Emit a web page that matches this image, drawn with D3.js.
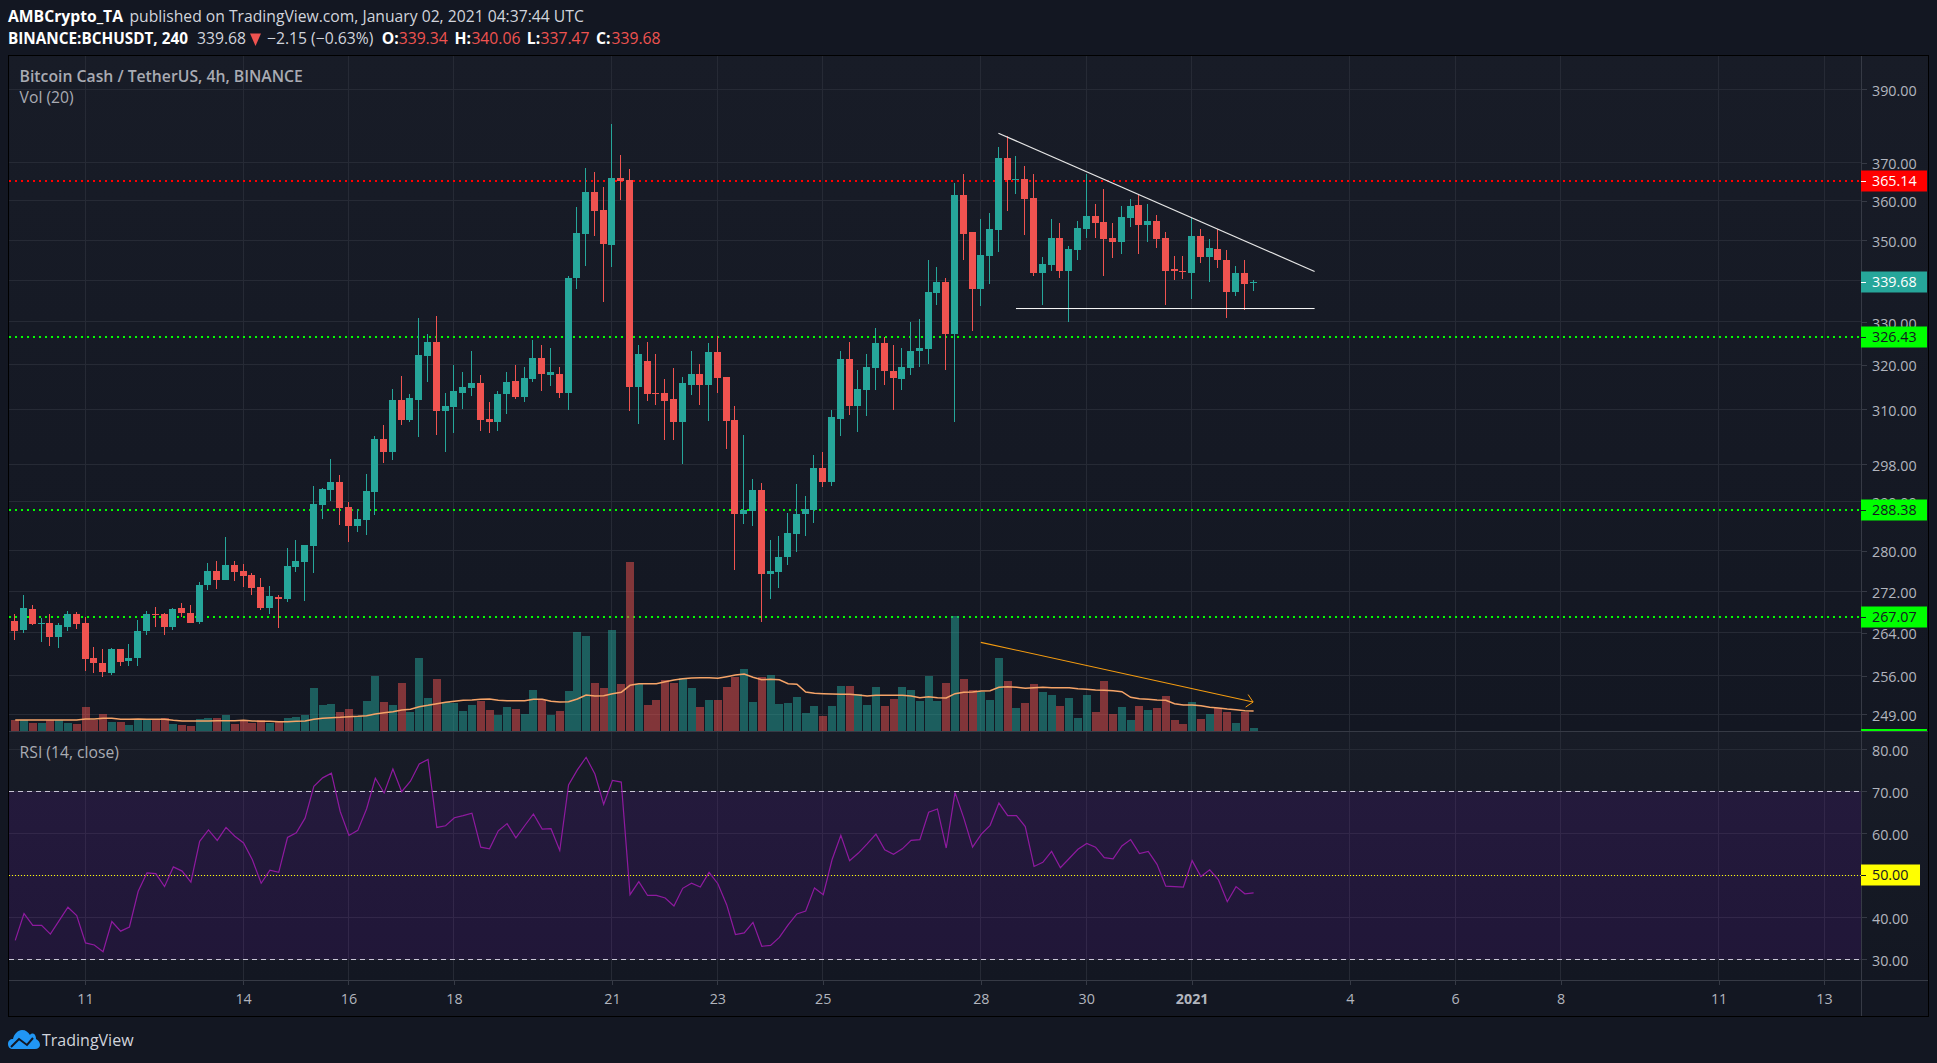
<!DOCTYPE html>
<html>
<head>
<meta charset="utf-8">
<title>BCHUSDT 4h</title>
<script src="https://cdn.jsdelivr.net/npm/d3@7/dist/d3.min.js"></script>
<style>
	html, body { margin: 0; padding: 0; background: #131722; overflow: hidden; }
	text { font-family: "Open Sans", sans-serif; }
	svg { display: block; }
</style>
</head>
<body>
<div id="chart"></div>
<script>
// candles, every 4 hours starting 9 Dec 2020 16:00 UTC
var opens = [
	266.3, 264.6, 268.6, 265.6, 265.8, 263.3, 265.2, 267.6, 265.8, 259.2,
	258.4, 256.5, 261.0, 258.8, 259.2, 264.3, 267.6, 267.6, 265.2, 268.8,
	267.8, 266.1, 273.3, 276.0, 274.3, 277.2, 276.0, 275.1, 272.9, 268.8,
	270.9, 270.5, 276.8, 277.8, 280.9, 289.4, 292.5, 294.2, 289.0, 285.1,
	286.3, 292.1, 303.4, 300.6, 312.0, 307.6, 312.0, 322.0, 325.3, 309.6,
	310.5, 313.6, 314.7, 315.8, 307.8, 307.1, 313.3, 316.2, 312.6, 316.7,
	321.5, 317.6, 318.0, 313.5, 340.7, 351.6, 362.3, 357.7, 348.8, 366.0,
	365.4, 314.9, 321.0, 313.5, 313.7, 312.2, 307.1, 315.5, 317.8, 315.5,
	322.9, 317.3, 307.5, 287.5, 288.1, 292.5, 275.3, 275.7, 278.8, 283.4,
	287.5, 288.3, 297.1, 294.2, 307.9, 321.3, 310.6, 314.2, 319.2, 325.0,
	318.5, 316.7, 319.2, 323.1, 323.6, 337.0, 339.5, 327.1, 361.6, 352.1,
	337.8, 346.1, 352.6, 371.3, 365.4, 365.7, 360.8, 341.7, 343.9, 350.6,
	342.4, 347.6, 352.9, 356.2, 354.6, 350.6, 349.5, 355.7, 359.0, 353.9,
	354.9, 350.6, 342.9, 342.4, 341.9, 351.1, 345.8, 347.8, 345.1, 337.3,
	341.9, 339.34
];
var highs = [
	267.6, 271.3, 269.4, 266.9, 267.6, 265.9, 268.2, 268.0, 267.1, 261.4,
	260.9, 261.2, 261.0, 261.8, 266.5, 268.2, 269.0, 267.8, 268.8, 269.7,
	269.4, 273.9, 277.6, 278.0, 282.7, 278.0, 277.4, 275.5, 274.5, 273.1,
	271.3, 280.5, 282.1, 281.1, 293.3, 292.9, 299.1, 295.6, 290.0, 288.6,
	295.9, 304.0, 306.5, 314.5, 317.4, 313.4, 330.9, 327.1, 331.4, 313.6,
	319.9, 318.3, 323.2, 317.6, 311.6, 314.0, 318.3, 319.9, 319.6, 325.7,
	324.5, 323.8, 319.4, 341.2, 358.5, 368.6, 367.6, 363.6, 380.5, 372.1,
	368.4, 324.5, 325.2, 322.6, 316.7, 319.2, 317.3, 323.1, 320.3, 325.0,
	326.6, 317.3, 310.6, 304.2, 294.8, 294.0, 282.2, 283.0, 287.7, 293.8,
	291.2, 299.9, 300.5, 309.7, 323.1, 325.4, 318.9, 322.6, 328.5, 326.4,
	324.5, 324.0, 329.9, 330.6, 345.1, 343.4, 340.7, 364.7, 367.0, 352.1,
	355.2, 356.9, 374.2, 377.2, 371.8, 369.2, 367.0, 345.8, 355.2, 354.4,
	348.5, 354.9, 367.0, 359.3, 363.1, 354.4, 358.7, 360.5, 361.6, 359.3,
	356.4, 352.1, 346.1, 346.1, 355.7, 352.9, 350.3, 352.9, 347.6, 343.6,
	345.1, 340.06
];
var lows = [
	262.7, 263.9, 265.4, 262.2, 261.6, 261.2, 264.4, 264.8, 256.9, 256.5,
	255.8, 256.2, 257.8, 257.8, 257.8, 263.5, 265.2, 263.5, 264.6, 267.1,
	265.9, 265.6, 272.3, 272.5, 274.3, 274.1, 272.9, 271.3, 268.4, 267.6,
	265.0, 269.9, 275.8, 270.1, 275.6, 286.5, 290.2, 285.3, 281.7, 283.9,
	283.3, 287.3, 298.2, 298.8, 306.5, 307.1, 303.8, 316.1, 304.2, 300.6,
	304.7, 310.0, 312.9, 305.1, 304.7, 305.1, 309.0, 312.2, 311.5, 316.0,
	314.0, 315.1, 312.4, 309.9, 338.0, 343.6, 351.1, 334.8, 343.4, 360.3,
	309.5, 306.8, 311.9, 310.8, 303.3, 303.1, 298.0, 313.1, 311.0, 307.3,
	313.5, 301.2, 276.1, 285.4, 285.0, 266.0, 270.5, 272.6, 277.1, 279.8,
	283.0, 285.6, 293.1, 293.3, 304.0, 308.6, 304.9, 308.4, 314.2, 315.5,
	309.9, 314.2, 317.6, 319.6, 320.1, 334.1, 318.9, 307.1, 344.9, 327.8,
	333.9, 339.2, 347.1, 357.5, 361.8, 351.3, 341.2, 334.1, 342.2, 340.7,
	329.9, 345.1, 350.6, 350.6, 341.2, 345.4, 346.6, 353.4, 346.6, 349.5,
	348.1, 334.1, 340.0, 340.4, 335.6, 344.4, 339.7, 343.1, 331.0, 336.3,
	332.9, 337.47
];
var closes = [
	264.4, 268.8, 265.6, 265.8, 263.3, 265.4, 267.5, 265.6, 259.0, 258.4,
	256.7, 261.0, 258.6, 259.3, 264.4, 267.6, 267.4, 265.2, 268.6, 267.8,
	265.9, 273.3, 276.0, 274.3, 277.2, 275.8, 274.9, 272.7, 268.8, 271.1,
	270.5, 277.0, 278.0, 281.1, 289.6, 292.7, 294.2, 288.8, 285.1, 286.5,
	292.3, 303.4, 300.6, 312.0, 307.6, 312.5, 322.2, 325.3, 309.6, 310.7,
	314.0, 314.9, 315.8, 307.6, 307.1, 313.4, 316.0, 312.6, 316.9, 321.5,
	317.8, 318.3, 313.7, 340.7, 351.8, 362.3, 357.5, 349.0, 366.0, 365.2,
	314.9, 322.6, 313.3, 313.3, 311.9, 307.1, 315.8, 317.8, 315.5, 322.9,
	317.1, 307.3, 287.5, 288.3, 292.5, 275.3, 275.9, 278.8, 283.6, 287.5,
	288.5, 297.1, 294.2, 308.2, 321.3, 310.6, 314.4, 319.4, 325.0, 318.5,
	316.9, 319.4, 323.3, 323.8, 337.3, 339.5, 327.1, 361.6, 351.6, 338.0,
	346.3, 352.9, 371.3, 365.4, 365.7, 360.5, 341.7, 344.1, 350.6, 342.4,
	347.8, 353.1, 356.2, 354.4, 350.3, 349.5, 355.9, 358.7, 353.9, 354.9,
	350.3, 342.4, 342.4, 342.2, 351.1, 345.8, 348.1, 344.9, 337.3, 341.9,
	339.2, 339.68
];

// volume in relative units, the scale of the picture has no labels
var volumes = [
	11, 11, 8, 8, 11, 11, 8, 7, 24, 11,
	17, 9, 9, 6, 11, 11, 11, 13, 7, 6,
	5, 12, 13, 13, 16, 7, 11, 8, 11, 8,
	9, 13, 14, 16, 43, 26, 27, 19, 22, 15,
	30, 55, 29, 26, 48, 19, 73, 33, 52, 29,
	28, 20, 26, 30, 21, 16, 24, 22, 17, 41,
	31, 16, 20, 40, 99, 95, 48, 43, 101, 47,
	169, 47, 26, 31, 51, 48, 53, 43, 24, 31,
	31, 44, 54, 62, 29, 54, 56, 27, 28, 34,
	18, 25, 15, 25, 45, 45, 37, 26, 44, 25,
	32, 44, 41, 30, 55, 30, 48, 115, 52, 41,
	39, 31, 73, 50, 23, 28, 47, 39, 36, 25,
	33, 13, 36, 19, 50, 17, 24, 11, 25, 21,
	23, 35, 11, 7, 29, 12, 17, 23, 19, 8,
	19, 3
];
var volumeMa = [
	11, 11, 11, 11, 11, 11, 11, 11, 12, 12,
	12.7, 12.7, 11.7, 11.7, 12, 11.7, 11.7, 11.7, 10.7, 10,
	10, 10, 10, 10.3, 10.3, 10.3, 10.7, 10, 9.7, 9.7,
	9.3, 9.3, 9.7, 10, 11.7, 12.7, 13.3, 13.7, 14.3, 14.7,
	15.3, 17, 18.3, 19.3, 21, 21.7, 24.3, 25.7, 27.3, 28.7,
	29.7, 30.7, 31, 31.7, 32, 30.7, 30.3, 30.3, 30.3, 31.7,
	31.7, 29.7, 29, 29.3, 32, 36, 35, 35.3, 37.3, 38.7,
	45.7, 47.3, 47.3, 47.3, 49.3, 51, 52.3, 53, 53.3, 53.3,
	52.7, 54.3, 56, 57, 53.7, 51.3, 51.7, 51.3, 47.3, 46.7,
	39, 37.7, 37.3, 37, 36.7, 36.7, 36, 35, 35.7, 35.7,
	35.7, 35.7, 35, 33.3, 34.3, 33.3, 33, 37.3, 38.7, 39,
	40, 40.3, 43.7, 44.3, 43.7, 42.7, 43.3, 43.7, 43.3, 43.3,
	43.3, 42.3, 41.7, 41, 40.7, 40.3, 39.3, 33.7, 32.3, 31.7,
	31, 30.7, 27.3, 26, 26, 25.3, 23.7, 23, 22, 21.3,
	20.3, 20
];
var rsi = [
	34.5, 40.9, 38.1, 38.1, 36.0, 39.2, 42.4, 40.4, 33.9, 33.4,
	31.8, 39.0, 36.7, 37.7, 46.2, 50.6, 50.4, 47.3, 52.0, 51.0,
	48.4, 58.1, 60.8, 58.3, 61.4, 59.3, 57.7, 53.7, 48.1, 51.2,
	50.7, 59.0, 60.1, 63.6, 71.2, 73.2, 74.3, 65.2, 59.5, 60.7,
	65.8, 73.1, 69.6, 75.3, 69.9, 72.4, 76.5, 77.6, 61.4, 61.8,
	63.7, 64.2, 64.8, 56.7, 56.3, 60.6, 62.3, 58.9, 61.8, 64.6,
	61.0, 61.1, 55.9, 71.5, 75.1, 78.1, 74.1, 66.9, 72.6, 72.2,
	45.4, 48.5, 45.2, 45.2, 44.6, 42.7, 46.9, 48.1, 47.2, 50.7,
	48.0, 43.0, 35.9, 36.3, 38.8, 33.1, 33.3, 35.2, 38.2, 40.8,
	41.5, 47.0, 45.4, 53.7, 59.5, 53.5, 55.3, 57.5, 59.8, 56.1,
	55.0, 56.3, 58.3, 58.5, 65.0, 65.8, 56.5, 69.7, 63.6, 56.7,
	59.8, 61.9, 67.2, 64.2, 64.2, 61.6, 52.1, 53.1, 55.7, 51.8,
	54.0, 56.2, 57.6, 56.7, 54.2, 53.9, 57.0, 58.5, 55.2, 55.7,
	52.6, 47.4, 47.3, 47.2, 53.5, 49.7, 51.3, 48.9, 43.7, 47.3,
	45.6, 45.8
];

// axis ticks
var priceTicks = [390, 370, 360, 350, 340, 330, 320, 310, 298, 290, 280, 272, 264, 256, 249];
var rsiTicks = [80, 70, 60, 50, 40, 30];
var timeTicks = [
	[2020, 11, 11], [2020, 11, 14], [2020, 11, 16], [2020, 11, 18], [2020, 11, 21],
	[2020, 11, 23], [2020, 11, 25], [2020, 11, 28], [2020, 11, 30], [2021, 0, 1],
	[2021, 0, 4], [2021, 0, 6], [2021, 0, 8], [2021, 0, 11], [2021, 0, 13]
];
var timeLabels = ["11", "14", "16", "18", "21", "23", "25", "28", "30", "2021", "4", "6", "8", "11", "13"];

// horizontal levels and drawings
var levelPrices = [365.14, 326.43, 288.38, 267.07];
var levelFills = ["#ff0000", "#00ff00", "#00ff00", "#00ff00"];
var levelTexts = ["#ffffff", "#131722", "#131722", "#131722"];
var lastPrice = 339.68;
var fallingTrend = [[Date.UTC(2020, 11, 28, 8), 377.9], [Date.UTC(2021, 0, 3, 8), 342.2]];
var flatSupport = [[Date.UTC(2020, 11, 28, 16), 333.2], [Date.UTC(2021, 0, 3, 8), 333.2]];
var volumeTrend = [[Date.UTC(2020, 11, 28, 0), 262.2], [Date.UTC(2021, 0, 2, 4), 251.2]];

var green = "#26a69a", red = "#ef5350", gridColor = "#262a35", axisColor = "#363a45", axisText = "#b2b5be";

var bars = opens.map(function(d, i) {
	return {
		date: new Date(Date.UTC(2020, 11, 9, 16) + i * 4 * 3600 * 1000),
		open: d, high: highs[i], low: lows[i], close: closes[i],
		volume: volumes[i], volumeMa: volumeMa[i], rsi: rsi[i]
	};
});

// layout
var chartWidth = 1937, chartHeight = 1063;
var paneLeft = 8.5, paneRight = 1861, frameRight = 1928, paneTop = 55, paneSplit = 731, timeTop = 980, frameBottom = 1016;
var dashStart = 9;

var x = d3.scaleUtc()
	.domain([new Date(Date.UTC(2020, 11, 11)), new Date(Date.UTC(2021, 0, 13))])
	.range([85, 1824]);
var y = d3.scaleLog().domain([390, 249]).range([89.3, 714.3]);
var yVol = d3.scaleLinear().domain([0, 169]).range([731, 562]);
var yRsi = d3.scaleLinear().domain([80, 30]).range([749.3, 959.3]);

function px(d) { return Math.floor(x(d)); }
function color(d) { return d.close >= d.open ? green : red; }

var svg = d3.select("#chart").append("svg").attr("width", chartWidth).attr("height", chartHeight);

// backgrounds
var defs = svg.append("defs");
var grad = defs.append("linearGradient").attr("id", "paneBg").attr("x1", 0).attr("x2", 0).attr("y1", 0).attr("y2", 1);
grad.append("stop").attr("offset", "0%").attr("stop-color", "#181c27");
grad.append("stop").attr("offset", "100%").attr("stop-color", "#131722");
defs.append("clipPath").attr("id", "mainClip").append("rect")
	.attr("x", paneLeft).attr("y", paneTop).attr("width", paneRight - paneLeft).attr("height", paneSplit - paneTop);

svg.append("rect").attr("width", chartWidth).attr("height", chartHeight).attr("fill", "#131722");
svg.append("rect").attr("x", paneLeft).attr("y", paneTop).attr("width", frameRight - paneLeft).attr("height", paneSplit - paneTop).attr("fill", "url(#paneBg)");
svg.append("rect").attr("x", paneLeft).attr("y", paneSplit).attr("width", frameRight - paneLeft).attr("height", timeTop - paneSplit).attr("fill", "url(#paneBg)");

// grid
var grid = svg.append("g").attr("shape-rendering", "crispEdges").attr("stroke", gridColor);
var tickDates = timeTicks.map(function(d) { return new Date(Date.UTC(d[0], d[1], d[2])); });
grid.selectAll(".v").data(tickDates).enter().append("line")
	.attr("x1", function(d) { return px(d) + 0.5; })
	.attr("x2", function(d) { return px(d) + 0.5; })
	.attr("y1", paneTop).attr("y2", timeTop);
grid.selectAll(".h").data(priceTicks).enter().append("line")
	.attr("x1", paneLeft).attr("x2", paneRight)
	.attr("y1", function(d) { return y(d); })
	.attr("y2", function(d) { return y(d); });
grid.selectAll(".r").data(rsiTicks).enter().append("line")
	.attr("x1", paneLeft).attr("x2", paneRight)
	.attr("y1", function(d) { return yRsi(d); })
	.attr("y2", function(d) { return yRsi(d); });

// rsi pane
svg.append("rect")
	.attr("x", paneLeft).attr("width", paneRight - paneLeft)
	.attr("y", yRsi(70)).attr("height", yRsi(30) - yRsi(70))
	.attr("fill", "#9915ff").attr("opacity", 0.1);
svg.selectAll(".band").data([70, 30]).enter().append("line")
	.attr("x1", dashStart).attr("x2", paneRight)
	.attr("y1", function(d) { return Math.round(yRsi(d)) + 0.5; })
	.attr("y2", function(d) { return Math.round(yRsi(d)) + 0.5; })
	.attr("stroke", "#c9c4d6").attr("stroke-dasharray", "5,4");
svg.append("line")
	.attr("x1", dashStart).attr("x2", paneRight)
	.attr("y1", Math.round(yRsi(50)) + 0.5).attr("y2", Math.round(yRsi(50)) + 0.5)
	.attr("stroke", "#ffff00").attr("stroke-dasharray", "1,2");
svg.append("path").datum(bars)
	.attr("fill", "none").attr("stroke", "#8f1a9f").attr("stroke-width", 1.2)
	.attr("d", d3.line()
		.x(function(d) { return x(d.date) + 0.5; })
		.y(function(d) { return yRsi(d.rsi); }));

var main = svg.append("g").attr("clip-path", "url(#mainClip)");

// dotted levels, they sit below the bars
main.selectAll(".level").data(levelPrices).enter().append("line")
	.attr("x1", dashStart).attr("x2", paneRight)
	.attr("y1", function(d) { return Math.round(y(d)); })
	.attr("y2", function(d) { return Math.round(y(d)); })
	.attr("stroke", function(d, i) { return levelFills[i]; })
	.attr("stroke-width", 2).attr("stroke-dasharray", "2,4");

// volume
main.append("g").attr("shape-rendering", "crispEdges").selectAll("rect").data(bars).enter().append("rect")
	.attr("x", function(d) { return px(d.date) - 3; })
	.attr("width", 8)
	.attr("y", function(d) { return yVol(d.volume); })
	.attr("height", function(d) { return yVol(0) - yVol(d.volume); })
	.attr("fill", color).attr("opacity", 0.5);
main.append("path").datum(bars)
	.attr("fill", "none").attr("stroke", "#f6a468").attr("stroke-width", 1.5)
	.attr("d", d3.line()
		.x(function(d) { return x(d.date) + 0.5; })
		.y(function(d) { return yVol(d.volumeMa); }));

// candles
var candle = main.append("g").attr("shape-rendering", "crispEdges").selectAll("g").data(bars).enter().append("g");
candle.append("rect")
	.attr("x", function(d) { return px(d.date); })
	.attr("width", 1)
	.attr("y", function(d) { return y(d.high); })
	.attr("height", function(d) { return y(d.low) - y(d.high); })
	.attr("fill", color);
candle.append("rect")
	.attr("x", function(d) { return px(d.date) - 3; })
	.attr("width", 7)
	.attr("y", function(d) { return y(Math.max(d.open, d.close)); })
	.attr("height", function(d) { return Math.max(1, Math.abs(y(d.open) - y(d.close))); })
	.attr("fill", color);

// drawings on top of the bars
var drawLine = d3.line()
	.x(function(d) { return x(new Date(d[0])); })
	.y(function(d) { return y(d[1]); });
main.append("path").attr("d", drawLine(fallingTrend)).attr("fill", "none").attr("stroke", "#e6e6e6").attr("stroke-width", 1.2);
main.append("path").attr("d", drawLine(flatSupport)).attr("fill", "none").attr("stroke", "#ffffff").attr("stroke-width", 1);
main.append("path").attr("d", drawLine(volumeTrend)).attr("fill", "none").attr("stroke", "#f59c10").attr("stroke-width", 1.1);
var tip = volumeTrend[1];
main.append("path")
	.attr("transform", "translate(" + x(new Date(tip[0])) + "," + y(tip[1]) + ")")
	.attr("d", "M-5,-7.5L0,0L-7.5,5")
	.attr("fill", "none").attr("stroke", "#f59c10");

// frame lines
var frame = svg.append("g").attr("shape-rendering", "crispEdges");
frame.append("line").attr("x1", paneLeft).attr("x2", frameRight).attr("y1", paneSplit).attr("y2", paneSplit).attr("stroke", axisColor);
frame.append("line").attr("x1", paneLeft).attr("x2", frameRight).attr("y1", timeTop).attr("y2", timeTop).attr("stroke", axisColor);
frame.append("line").attr("x1", paneRight + 0.5).attr("x2", paneRight + 0.5).attr("y1", paneTop).attr("y2", frameBottom).attr("stroke", axisColor);
frame.append("rect").attr("x", paneLeft).attr("y", paneTop).attr("width", frameRight - paneLeft).attr("height", frameBottom - paneTop)
	.attr("fill", "none").attr("stroke", "#000000");

// axes
function styleAxis(g) {
	g.select(".domain").remove();
	g.selectAll("line").attr("stroke", axisColor).attr("shape-rendering", "crispEdges");
	g.selectAll("text").attr("fill", axisText).attr("font-family", null).style("font-size", "14.3px");
}
svg.append("g").attr("transform", "translate(" + paneRight + ",0)")
	.call(d3.axisRight(y).tickValues(priceTicks).tickFormat(d3.format(".2f")).tickSize(6).tickPadding(5))
	.call(styleAxis)
	.selectAll("text").attr("dy", "0.42em");
svg.append("g").attr("transform", "translate(" + paneRight + ",0)")
	.call(d3.axisRight(yRsi).tickValues(rsiTicks).tickFormat(d3.format(".2f")).tickSize(6).tickPadding(5))
	.call(styleAxis)
	.selectAll("text").attr("dy", "0.42em");
var timeAxis = svg.append("g").attr("transform", "translate(0," + timeTop + ")")
	.call(d3.axisBottom(x).tickValues(tickDates)
		.tickFormat(function(d, i) { return timeLabels[i]; }).tickSize(5).tickPadding(9))
	.call(styleAxis);
timeAxis.selectAll("text")
	.attr("font-weight", function(d, i) { return timeLabels[i] == "2021" ? "bold" : null; });

// price labels
function priceLabel(value, yScale, fill, textFill, w) {
	var yv = Math.round(yScale(value));
	var g = svg.append("g");
	g.append("rect").attr("x", paneRight).attr("y", yv - 10.5).attr("width", w).attr("height", 21).attr("fill", fill);
	g.append("line").attr("x1", paneRight).attr("x2", paneRight + 5).attr("y1", yv + 0.5).attr("y2", yv + 0.5).attr("stroke", textFill);
	g.append("text").attr("x", paneRight + 11).attr("y", yv).attr("dy", ".38em")
		.attr("fill", textFill).style("font-size", "14.3px").text(d3.format(".2f")(value));
}
levelPrices.forEach(function(d, i) { priceLabel(d, y, levelFills[i], levelTexts[i], 66); });
priceLabel(lastPrice, y, green, "#ffffff", 66);
priceLabel(50, yRsi, "#ffff00", "#131722", 59);
// sliver of the label that sits below the pane edge
svg.append("rect").attr("x", paneRight).attr("y", 729).attr("width", 66).attr("height", 2).attr("fill", "#00ff00");

// header
function put(xp, yp, txt, fill, weight, size) {
	return svg.append("text").attr("x", xp).attr("y", yp).attr("dy", ".35em")
		.attr("fill", fill).attr("font-weight", weight || null)
		.style("font-size", (size || 15.7) + "px").text(txt);
}
put(8, 17, "AMBCrypto_TA", "#ffffff", "bold");
put(129.5, 17, "published on TradingView.com, January 02, 2021 04:37:44 UTC", "#d1d4dc");
put(8, 39, "BINANCE:BCHUSDT, 240", "#ffffff", "bold", 15.3);
put(197, 39, "339.68", "#d1d4dc");
svg.append("path").attr("d", "M250,33.5L261,33.5L255.5,46Z").attr("fill", red);
put(267, 39, "\u22122.15 (\u22120.63%)", "#d1d4dc");
put(381.7, 39, "O:", "#ffffff", "bold");
put(398.7, 39, "339.34", red);
put(454.5, 39, "H:", "#ffffff", "bold");
put(471.4, 39, "340.06", red);
put(526.8, 39, "L:", "#ffffff", "bold");
put(540.6, 39, "337.47", red);
put(596, 39, "C:", "#ffffff", "bold");
put(611.6, 39, "339.68", red);

// pane titles
put(19.6, 76.7, "Bitcoin Cash / TetherUS, 4h, BINANCE", "#a9abb3", "600", 15.75);
put(19.6, 98, "Vol (20)", "#a9abb3", null, 15.7);
put(19.6, 752.7, "RSI (14, close)", "#a9abb3", null, 15.7);

// logo
var logo = svg.append("g").attr("transform", "translate(8,1030)");
logo.append("path")
	.attr("d", "M5,19C2,19 0,17 0,14C0,11 2,9 5,9C6,4 10,0 14,0C18,0 20,2 22,5C23,3 26,3 27,5C28,7 28,8 28,9C30,10 32,12 32,15C32,17 30,19 27,19Z")
	.attr("fill", "#2196f3");
logo.append("path")
	.attr("d", "M3,17L11,9L19,15L25,8")
	.attr("fill", "none").attr("stroke", "#131722").attr("stroke-width", 2);
put(42, 1040, "TradingView", "#d1d4dc", null, 16);
</script>
</body>
</html>
